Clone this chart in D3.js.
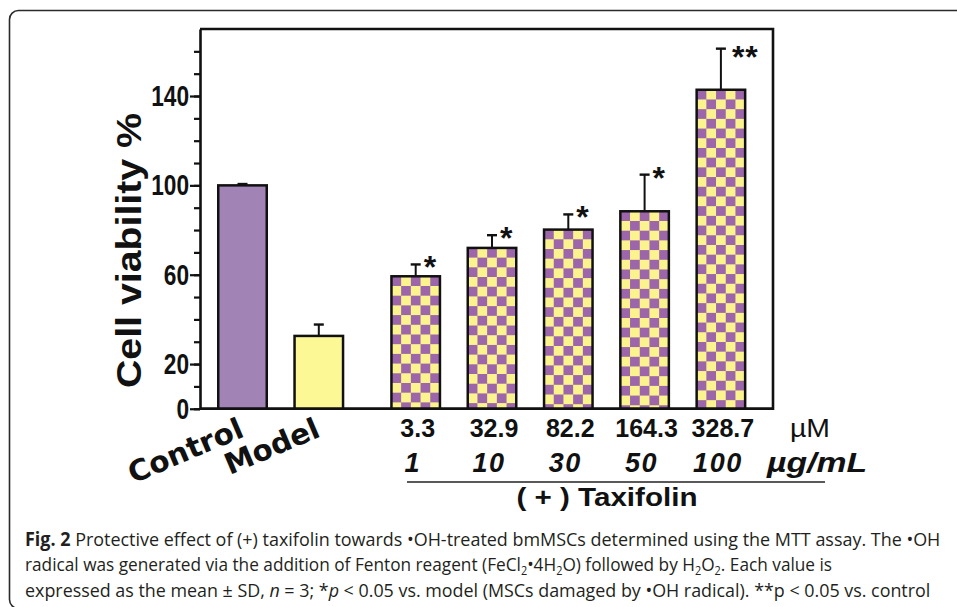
<!DOCTYPE html>
<html>
<head>
<meta charset="utf-8">
<script src="https://cdn.jsdelivr.net/npm/d3@7/dist/d3.min.js"></script>
<style>
  body { margin: 0; background: #fff; }
  svg { display: block; }
</style>
</head>
<body>
<div id="chart"></div>
<script>
// data
var categories = ['Control', 'Model', '3.3', '32.9', '82.2', '164.3', '328.7'];
var doseUM = ['3.3', '32.9', '82.2', '164.3', '328.7'];
var doseUg = ['1', '10', '30', '50', '100'];
var viability = [100, 32.6, 59.3, 72.0, 80.2, 88.4, 142.8];
var sd = [0.6, 5.1, 5.3, 5.7, 6.8, 16.4, 18.4];
var marks = ['', '', '*', '*', '*', '*', '**'];
var yTicks = d3.range(0, 161, 10);
var yLabels = [0, 20, 60, 100, 140];

var W = 957, H = 607;
var pL = 200, pR = 773, pT = 29, pB = 408.75;
var barW = 48.5, sq = 9.7, groupGap = 0.27;
var purple = '#9d66aa', yellow = '#fbf48e';

var svg = d3.select('#chart').append('svg')
  .attr('width', W).attr('height', H);
var defs = svg.append('defs');

// outer rounded frame (partly cropped)
svg.append('rect')
  .attr('x', 9.5).attr('y', 10.5)
  .attr('width', 980).attr('height', 598)
  .attr('rx', 9)
  .attr('fill', 'none').attr('stroke', '#2a2a2a').attr('stroke-width', 1.6);

var y = d3.scaleLinear().domain([0, 170]).range([pB, pT]);
var x = d3.scaleLinear().domain([0, 1]).range([242.5, 318.8]);
function slot(i) { return i + (i >= 2 ? groupGap : 0); }
function cx(i) { return x(slot(i)); }

// plot frame
svg.append('path')
  .attr('d', 'M' + pL + ',' + pT + 'H' + pR + 'V' + pB + 'H' + pL)
  .attr('fill', 'none').attr('stroke', '#111').attr('stroke-width', 2.6);

// y axis: minor ticks + labelled ticks
var axisG = svg.append('g').attr('transform', 'translate(' + pL + ',0)');
axisG.call(d3.axisLeft(y).tickValues(yTicks).tickSize(6).tickSizeOuter(0).tickFormat(''));
var majorG = svg.append('g').attr('transform', 'translate(' + pL + ',0)');
majorG.call(d3.axisLeft(y).tickValues(yLabels).tickSize(10).tickPadding(1).tickSizeOuter(0));
majorG.select('.domain').remove();
svg.selectAll('.domain').attr('stroke', '#111').attr('stroke-width', 2.6);
svg.selectAll('.tick line').attr('stroke', '#111').attr('stroke-width', 2.2);
majorG.selectAll('.tick text')
  .attr('font-family', 'Liberation Sans, Arial, sans-serif')
  .attr('font-weight', 'bold').attr('font-size', 27)
  .attr('fill', '#111')
  .attr('transform', 'scale(0.84,1.1)')
  .attr('x', -11 / 0.84);

// y axis title
svg.append('text')
  .attr('transform', 'translate(141,250.5) rotate(-90)')
  .attr('text-anchor', 'middle')
  .attr('font-family', 'Liberation Sans, Arial, sans-serif')
  .attr('font-weight', 'bold').attr('font-size', 35)
  .attr('textLength', 275).attr('lengthAdjust', 'spacingAndGlyphs')
  .attr('fill', '#111')
  .text('Cell viability %');

// checker patterns, one per treated bar so squares line up with the bar edge
viability.forEach(function (v, i) {
  if (i < 2) return;
  var p = defs.append('pattern')
    .attr('id', 'chk' + i)
    .attr('patternUnits', 'userSpaceOnUse')
    .attr('x', cx(i) - barW / 2).attr('y', y(v))
    .attr('width', sq * 2).attr('height', sq * 2);
  p.append('rect').attr('width', sq * 2).attr('height', sq * 2).attr('fill', purple);
  p.append('rect').attr('x', sq).attr('y', 0).attr('width', sq).attr('height', sq).attr('fill', yellow);
  p.append('rect').attr('x', 0).attr('y', sq).attr('width', sq).attr('height', sq).attr('fill', yellow);
});

var fills = ['#a283b6', '#fdf896'];

// error bars
var err = svg.append('g');
viability.forEach(function (v, i) {
  var c = cx(i);
  err.append('line')
    .attr('x1', c).attr('x2', c)
    .attr('y1', y(v)).attr('y2', y(v + sd[i]))
    .attr('stroke', '#111').attr('stroke-width', 2);
  err.append('line')
    .attr('x1', c - 5).attr('x2', c + 5)
    .attr('y1', y(v + sd[i])).attr('y2', y(v + sd[i]))
    .attr('stroke', '#111').attr('stroke-width', 2.4);
});

// bars
svg.append('g').selectAll('rect')
  .data(viability)
  .join('rect')
  .attr('x', function (d, i) { return cx(i) - barW / 2; })
  .attr('y', function (d) { return y(d); })
  .attr('width', barW)
  .attr('height', function (d) { return y(0) - y(d); })
  .attr('fill', function (d, i) { return i < 2 ? fills[i] : 'url(#chk' + i + ')'; })
  .attr('stroke', '#111').attr('stroke-width', 2.5);

// redraw baseline over bar bottoms
svg.append('line')
  .attr('x1', pL).attr('x2', pR)
  .attr('y1', y(0)).attr('y2', y(0))
  .attr('stroke', '#111').attr('stroke-width', 2.6);

// significance marks
svg.append('g').selectAll('text')
  .data(marks)
  .join('text')
  .attr('x', function (d, i) { return cx(i) + (d.length > 1 ? 11 : 8); })
  .attr('y', function (d, i) {
    return y(viability[i] + sd[i]) + (d.length > 1 ? 19 : 14);
  })
  .attr('font-family', 'Liberation Sans, Arial, sans-serif')
  .attr('font-weight', 'bold').attr('font-size', 32)
  .attr('letter-spacing', function (d) { return d.length > 1 ? 1 : 0; })
  .attr('fill', '#111')
  .text(function (d) { return d; });

// group labels (Control / Model)
var heavy = 'DejaVu Sans, Verdana, sans-serif';
var lens = [122, 100];
svg.append('g').selectAll('text')
  .data(categories.slice(0, 2))
  .join('text')
  .attr('transform', function (d, i) {
    return 'translate(' + (cx(i) + 3) + ',436) rotate(-23)';
  })
  .attr('text-anchor', 'end')
  .attr('font-family', heavy)
  .attr('font-weight', 'bold').attr('font-size', 29)
  .attr('textLength', function (d, i) { return lens[i]; })
  .attr('lengthAdjust', 'spacingAndGlyphs')
  .attr('fill', '#111')
  .text(function (d) { return d; });

var sans = 'Liberation Sans, Arial, sans-serif';

// concentration labels (µM)
svg.append('g').selectAll('text')
  .data(doseUM)
  .join('text')
  .attr('x', function (d, i) { return cx(i + 2) + 2; })
  .attr('y', 437)
  .attr('text-anchor', 'middle')
  .attr('font-family', sans).attr('font-weight', 'bold').attr('font-size', 25)
  .attr('fill', '#111')
  .text(function (d) { return d; });
svg.append('text')
  .attr('x', 790).attr('y', 437)
  .attr('font-family', sans).attr('font-size', 25)
  .attr('textLength', 40).attr('lengthAdjust', 'spacingAndGlyphs')
  .attr('fill', '#111').text('\u00b5M');

// concentration labels (µg/mL)
svg.append('g').selectAll('text')
  .data(doseUg)
  .join('text')
  .attr('x', function (d, i) { return cx(i + 2) - 3; })
  .attr('y', 472)
  .attr('text-anchor', 'middle')
  .attr('font-family', sans).attr('font-weight', 'bold').attr('font-style', 'italic')
  .attr('font-size', 27).attr('letter-spacing', 1.5)
  .attr('fill', '#111')
  .text(function (d) { return d; });
svg.append('text')
  .attr('x', 767).attr('y', 472)
  .attr('font-family', sans).attr('font-weight', 'bold').attr('font-style', 'italic')
  .attr('font-size', 27)
  .attr('textLength', 100).attr('lengthAdjust', 'spacingAndGlyphs')
  .attr('fill', '#111').text('\u00b5g/mL');

// group bracket
svg.append('line')
  .attr('x1', 407).attr('x2', 825).attr('y1', 482).attr('y2', 482)
  .attr('stroke', '#222').attr('stroke-width', 1.6);
svg.append('text')
  .attr('x', 607).attr('y', 506)
  .attr('text-anchor', 'middle')
  .attr('font-family', sans).attr('font-weight', 'bold').attr('font-size', 26)
  .attr('textLength', 181).attr('lengthAdjust', 'spacingAndGlyphs')
  .attr('fill', '#111').text('( + ) Taxifolin');

// caption: each line squeezed horizontally to the width it has in the figure
var capFont = 'Open Sans, Noto Sans, sans-serif';
function capLine(yy, len, pieces) {
  var g = svg.append('g');
  var t = g.append('text')
    .attr('font-family', capFont).attr('font-size', 19)
    .attr('fill', '#231f20');
  var prev = 0;
  pieces.forEach(function (p) {
    var s = t.append('tspan').text(p[0]);
    var cur = p[1] || 0;
    if (cur !== prev) s.attr('dy', cur ? 4 : -4);
    if (cur) s.attr('font-size', 12);
    if (p[2] === 'i') s.attr('font-style', 'italic');
    if (p[2] === 'b') s.attr('font-weight', 'bold');
    prev = cur;
  });
  var w = t.node().getComputedTextLength();
  g.attr('transform', 'translate(25,' + yy + ') scale(' + (len / w) + ',1)');
}
capLine(546, 916, [
  ['Fig. 2', 0, 'b'],
  [' Protective effect of (+) taxifolin towards \u2022OH-treated bmMSCs determined using the MTT assay. The \u2022OH']
]);
capLine(571, 808, [
  ['radical was generated via the addition of Fenton reagent (FeCl'], ['2', 1],
  ['\u20224H'], ['2', 1], ['O) followed by H'], ['2', 1], ['O'], ['2', 1],
  ['. Each value is']
]);
capLine(597, 906, [
  ['expressed as the mean \u00b1 SD, '], ['n', 0, 'i'], [' = 3; *'], ['p', 0, 'i'],
  [' < 0.05 vs. model (MSCs damaged by \u2022OH radical). **p < 0.05 vs. control']
]);
</script>
</body>
</html>
